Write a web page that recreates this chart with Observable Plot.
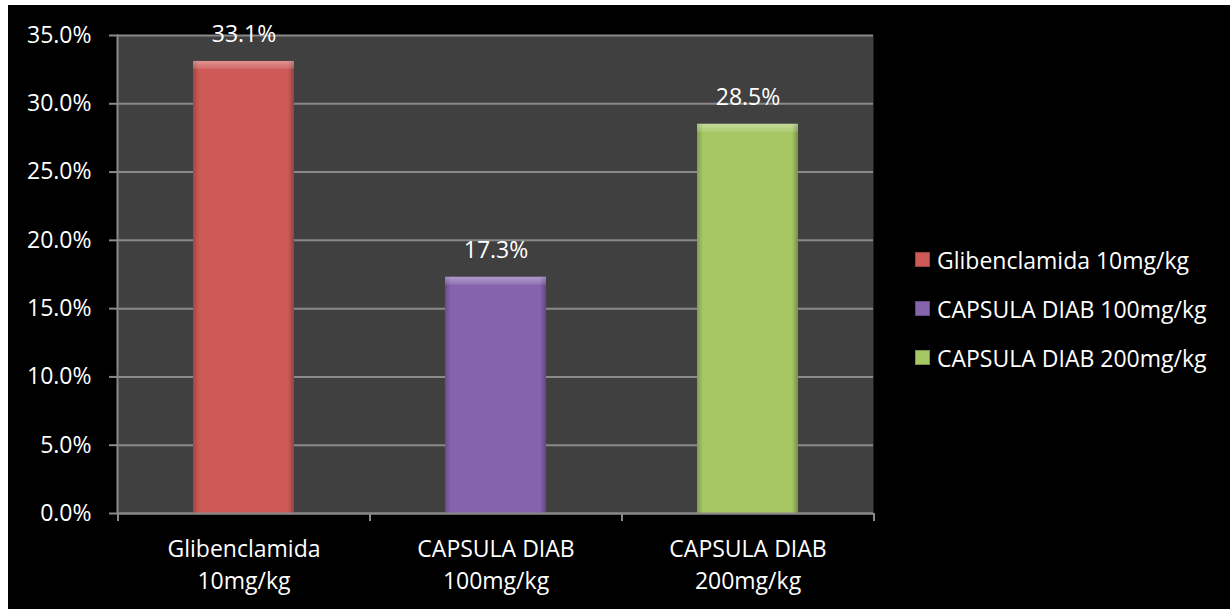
<!DOCTYPE html>
<html>
<head>
<meta charset="utf-8">
<script src="https://cdn.jsdelivr.net/npm/d3@7"></script>
<script src="https://cdn.jsdelivr.net/npm/@observablehq/plot@0.6"></script>
<style>
  html, body { margin: 0; padding: 0; background: #fff; }
  #wrap { position: absolute; left: 8px; top: 5px; width: 1222px; height: 604px; background: #000; }
  #legend { position: absolute; left: 907px; top: 230px; font-family: "Open Sans", sans-serif; font-size: 23px; color: #fff; }
  .item { display: flex; align-items: center; height: 49px; }
  .sw { width: 15px; height: 15px; margin-right: 7px; box-shadow: inset 0 0 0 1px rgba(0,0,0,0.25); }
</style>
</head>
<body>
<svg width="0" height="0" style="position:absolute">
  <defs>
    <linearGradient id="sideShade" x1="0" y1="0" x2="1" y2="0">
      <stop offset="0" stop-color="#000" stop-opacity="0.22"/>
      <stop offset="0.06" stop-color="#000" stop-opacity="0"/>
      <stop offset="0.94" stop-color="#000" stop-opacity="0"/>
      <stop offset="1" stop-color="#000" stop-opacity="0.28"/>
    </linearGradient>
    <linearGradient id="topHi" x1="0" y1="0" x2="0" y2="1">
      <stop offset="0" stop-color="#fff" stop-opacity="0.35"/>
      <stop offset="1" stop-color="#fff" stop-opacity="0.1"/>
    </linearGradient>
  </defs>
</svg>
<div id="wrap"><div id="legend"></div></div>
<script>
const categories = ["Glibenclamida 10mg/kg", "CAPSULA DIAB 100mg/kg", "CAPSULA DIAB 200mg/kg"];
const axisLabels = ["Glibenclamida\n10mg/kg", "CAPSULA DIAB\n100mg/kg", "CAPSULA DIAB\n200mg/kg"];
const values = [33.1, 17.3, 28.5];
const colors = ["#CD5A57", "#8564AD", "#A6C764"];
const yTicks = [0, 5, 10, 15, 20, 25, 30, 35];

const data = categories.map((c, i) => ({name: c, label: axisLabels[i], value: values[i]}));
const gridColor = "#8a8a8a";

const chart = Plot.plot({
  width: 1222,
  height: 604,
  marginLeft: 109,
  marginTop: 30,
  marginBottom: 96,
  marginRight: 357,
  style: {background: "#000", color: "#fff", fontFamily: "'Open Sans', sans-serif", fontSize: "23px"},
  x: {domain: axisLabels, paddingInner: 0.6, paddingOuter: 0.3},
  y: {domain: [0, 35]},
  color: {domain: axisLabels, range: colors},
  marks: [
    Plot.frame({fill: "#404040", stroke: null}),
    Plot.gridY(yTicks, {stroke: gridColor, strokeOpacity: 1, strokeWidth: 2}),
    Plot.frame({anchor: "left", stroke: gridColor, strokeWidth: 2}),
    Plot.barY(data, {x: "label", y: "value", fill: "label"}),
    Plot.barY(data, {x: "label", y: "value", fill: "url(#sideShade)"}),
    Plot.barY(data, {x: "label", y1: "value", y2: "value", insetBottom: -8, fill: "url(#topHi)"}),
    Plot.ruleY([0], {stroke: gridColor, strokeWidth: 2}),
    Plot.ruleX(axisLabels, {x: d => d, y1: 0, y2: 0, insetBottom: -8, dx: -126, stroke: gridColor, strokeWidth: 2}),
    Plot.ruleX([axisLabels[axisLabels.length - 1]], {x: d => d, y1: 0, y2: 0, insetBottom: -8, dx: 126, stroke: gridColor, strokeWidth: 2}),
    Plot.text(data, {x: "label", y: "value", text: d => d.value.toFixed(1) + "%", dy: -27, fill: "#fff", fontSize: 23}),
    Plot.axisY({ticks: yTicks, tickFormat: d => d.toFixed(1) + "%", tickSize: 8, tickPadding: 18, stroke: gridColor, strokeWidth: 2, strokeOpacity: 1, fontSize: 23, label: null}),
    Plot.axisX({tickSize: 0, tickPadding: 20, lineHeight: 1.42, fontSize: 23, label: null})
  ]
});
document.getElementById("wrap").prepend(chart);

const legend = document.getElementById("legend");
categories.forEach((c, i) => {
  const item = document.createElement("div");
  item.className = "item";
  const sw = document.createElement("span");
  sw.className = "sw";
  sw.style.background = colors[i];
  const t = document.createElement("span");
  t.textContent = c;
  item.appendChild(sw);
  item.appendChild(t);
  legend.appendChild(item);
});
</script>
</body>
</html>
